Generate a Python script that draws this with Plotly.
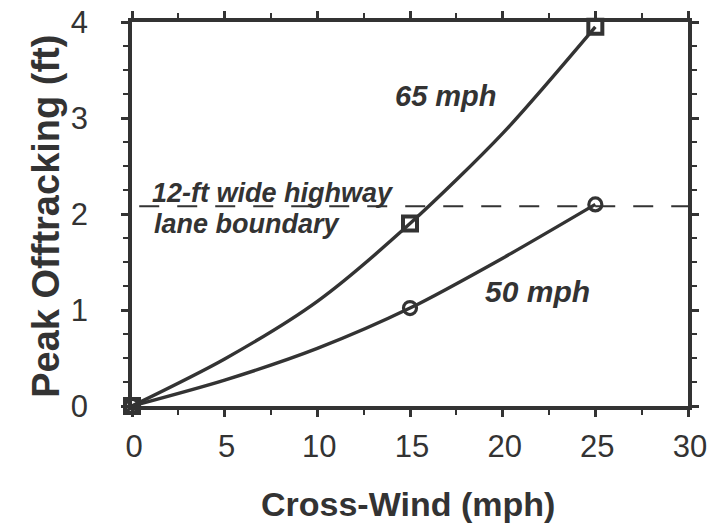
import plotly.graph_objects as go

# ---- data ----
wind_curve = [0, 5, 10, 15, 20, 25]
offtrack_65_curve = [0, 0.49, 1.09, 1.90, 2.84, 3.95]
offtrack_50_curve = [0, 0.27, 0.60, 1.02, 1.54, 2.10]

wind_points = [0, 15, 25]
offtrack_65_points = [0, 1.90, 3.95]
offtrack_50_points = [0, 1.02, 2.10]

lane_boundary = 2.08

x_ticks = [0, 5, 10, 15, 20, 25, 30]
y_ticks = [0, 1, 2, 3, 4]

INK = "#333333"
FONT = "Liberation Sans, Arial, sans-serif"

fig = go.Figure()

# lane boundary dashed line
fig.add_shape(type="line", xref="paper", yref="y", x0=0.013, x1=1.0,
              y0=lane_boundary, y1=lane_boundary,
              line=dict(color=INK, width=2, dash="20px,18px"), layer="below")

for yc in (offtrack_65_curve, offtrack_50_curve):
    fig.add_trace(go.Scatter(x=wind_curve, y=yc, mode="lines",
                             line=dict(color=INK, width=3.4, shape="spline", smoothing=0.8),
                             hoverinfo="skip", showlegend=False, cliponaxis=False))

fig.add_trace(go.Scatter(x=wind_points, y=offtrack_50_points, mode="markers",
                         marker=dict(symbol="circle-open", size=13, color=INK,
                                     line=dict(width=3.2, color=INK)),
                         showlegend=False, cliponaxis=False))
fig.add_trace(go.Scatter(x=wind_points, y=offtrack_65_points, mode="markers",
                         marker=dict(symbol="square-open", size=14, color=INK,
                                     line=dict(width=4, color=INK)),
                         showlegend=False, cliponaxis=False))

def ann_font(size):
    return dict(family=FONT, size=size, color=INK, weight="bold", style="italic")

fig.add_annotation(x=16.95, y=3.23, text="65 mph", showarrow=False, font=ann_font(29))
fig.add_annotation(x=21.86, y=1.19, text="50 mph", showarrow=False, font=ann_font(30))
fig.add_annotation(x=0.95, y=2.22, text="12-ft wide highway", showarrow=False,
                   xanchor="left", font=ann_font(27))
fig.add_annotation(x=1.1, y=1.90, text="lane boundary", showarrow=False,
                   xanchor="left", font=ann_font(27))

# axis titles
fig.add_annotation(xref="paper", yref="paper", x=0.496, y=-0.256,
                   xanchor="center", yanchor="middle",
                   text="Cross-Wind (mph)", showarrow=False,
                   font=dict(family=FONT, size=34, color=INK, weight="bold"))
fig.add_annotation(xref="paper", yref="paper", x=-0.155, y=0.495,
                   xanchor="center", yanchor="middle",
                   text="Peak Offtracking (ft)", showarrow=False, textangle=-90,
                   font=dict(family=FONT, size=38, color=INK, weight="bold"))

axis_common = dict(showline=True, linewidth=3.5, linecolor=INK, mirror="allticks",
                   ticks="outside", ticklen=7, tickwidth=2.5, tickcolor=INK,
                   showgrid=False, zeroline=False, automargin=False,
                   ticklabeloverflow="allow",
                   tickfont=dict(family=FONT, size=31, color=INK))

fig.update_xaxes(range=[0, 30], tickvals=x_ticks, ticktext=[str(v) for v in x_ticks],
                 minor=dict(dtick=2.5, tick0=0, ticks="outside", ticklen=5, tickwidth=2,
                            tickcolor=INK),
                 ticklabelstandoff=3, ticklabelshift=2, **axis_common)
fig.update_yaxes(range=[0, 4], tickvals=y_ticks, ticktext=[str(v) for v in y_ticks],
                 minor=dict(dtick=0.25, tick0=0, ticks="outside", ticklen=5, tickwidth=2,
                            tickcolor=INK),
                 ticklabelstandoff=27, **axis_common)

fig.update_layout(width=708, height=529, margin=dict(l=132, r=20, t=22, b=123),
                  plot_bgcolor="white", paper_bgcolor="white")

# remove the browser's default 8px body margin so the figure fills the window
fig.write_html("out.html",
               config={"displayModeBar": False},
               post_script="document.body.style.margin='0';"
                           "document.documentElement.style.overflow='hidden';")
